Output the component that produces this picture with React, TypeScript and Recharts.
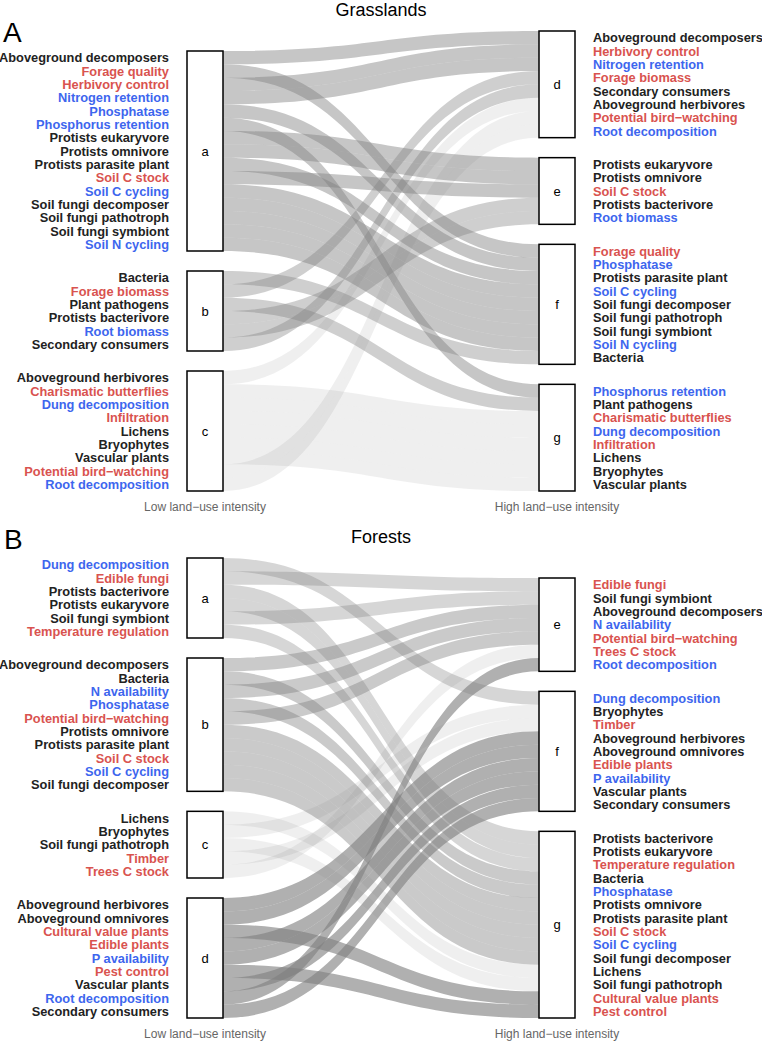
import React from "react";
import { Sankey } from "recharts";

// Panel A: grasslands. Strata at low (a-c) and high (d-g) land-use intensity,
// each listing its items top to bottom as printed in the figure.
const GRASS_LOW = ["a", "b", "c"];
const GRASS_HIGH = ["d", "e", "f", "g"];
const GRASS_LOW_ITEMS: string[][] = [
  [
    "Aboveground decomposers",
    "Forage quality",
    "Herbivory control",
    "Nitrogen retention",
    "Phosphatase",
    "Phosphorus retention",
    "Protists eukaryvore",
    "Protists omnivore",
    "Protists parasite plant",
    "Soil C stock",
    "Soil C cycling",
    "Soil fungi decomposer",
    "Soil fungi pathotroph",
    "Soil fungi symbiont",
    "Soil N cycling",
  ],
  [
    "Bacteria",
    "Forage biomass",
    "Plant pathogens",
    "Protists bacterivore",
    "Root biomass",
    "Secondary consumers",
  ],
  [
    "Aboveground herbivores",
    "Charismatic butterflies",
    "Dung decomposition",
    "Infiltration",
    "Lichens",
    "Bryophytes",
    "Vascular plants",
    "Potential bird\u2212watching",
    "Root decomposition",
  ],
];
const GRASS_HIGH_ITEMS: string[][] = [
  [
    "Aboveground decomposers",
    "Herbivory control",
    "Nitrogen retention",
    "Forage biomass",
    "Secondary consumers",
    "Aboveground herbivores",
    "Potential bird\u2212watching",
    "Root decomposition",
  ],
  [
    "Protists eukaryvore",
    "Protists omnivore",
    "Soil C stock",
    "Protists bacterivore",
    "Root biomass",
  ],
  [
    "Forage quality",
    "Phosphatase",
    "Protists parasite plant",
    "Soil C cycling",
    "Soil fungi decomposer",
    "Soil fungi pathotroph",
    "Soil fungi symbiont",
    "Soil N cycling",
    "Bacteria",
  ],
  [
    "Phosphorus retention",
    "Plant pathogens",
    "Charismatic butterflies",
    "Dung decomposition",
    "Infiltration",
    "Lichens",
    "Bryophytes",
    "Vascular plants",
  ],
];

// Panel B: forests.
const FOREST_LOW = ["a", "b", "c", "d"];
const FOREST_HIGH = ["e", "f", "g"];
const FOREST_LOW_ITEMS: string[][] = [
  [
    "Dung decomposition",
    "Edible fungi",
    "Protists bacterivore",
    "Protists eukaryvore",
    "Soil fungi symbiont",
    "Temperature regulation",
  ],
  [
    "Aboveground decomposers",
    "Bacteria",
    "N availability",
    "Phosphatase",
    "Potential bird\u2212watching",
    "Protists omnivore",
    "Protists parasite plant",
    "Soil C stock",
    "Soil C cycling",
    "Soil fungi decomposer",
  ],
  ["Lichens", "Bryophytes", "Soil fungi pathotroph", "Timber", "Trees C stock"],
  [
    "Aboveground herbivores",
    "Aboveground omnivores",
    "Cultural value plants",
    "Edible plants",
    "P availability",
    "Pest control",
    "Vascular plants",
    "Root decomposition",
    "Secondary consumers",
  ],
];
const FOREST_HIGH_ITEMS: string[][] = [
  [
    "Edible fungi",
    "Soil fungi symbiont",
    "Aboveground decomposers",
    "N availability",
    "Potential bird\u2212watching",
    "Trees C stock",
    "Root decomposition",
  ],
  [
    "Dung decomposition",
    "Bryophytes",
    "Timber",
    "Aboveground herbivores",
    "Aboveground omnivores",
    "Edible plants",
    "P availability",
    "Vascular plants",
    "Secondary consumers",
  ],
  [
    "Protists bacterivore",
    "Protists eukaryvore",
    "Temperature regulation",
    "Bacteria",
    "Phosphatase",
    "Protists omnivore",
    "Protists parasite plant",
    "Soil C stock",
    "Soil C cycling",
    "Soil fungi decomposer",
    "Lichens",
    "Soil fungi pathotroph",
    "Cultural value plants",
    "Pest control",
  ],
];

// Label colour groups (everything else is printed in black).
const SERVICE_ITEMS = [
  "Forage quality",
  "Herbivory control",
  "Soil C stock",
  "Forage biomass",
  "Charismatic butterflies",
  "Infiltration",
  "Potential bird\u2212watching",
  "Edible fungi",
  "Temperature regulation",
  "Timber",
  "Trees C stock",
  "Cultural value plants",
  "Edible plants",
  "Pest control",
];
const FUNCTION_ITEMS = [
  "Nitrogen retention",
  "Phosphatase",
  "Phosphorus retention",
  "Soil C cycling",
  "Soil N cycling",
  "Root biomass",
  "Dung decomposition",
  "Root decomposition",
  "N availability",
  "P availability",
];

const WIDTH = 762;
const HEIGHT = 1043;
const NODE_WIDTH = 36;
const LABEL_GAP = 18;
const RED = "#d9534f";
const BLUE = "#3d66ee";
const INK = "#222222";

// ribbon shade per low-intensity stratum
const GRASS_SHADE: Record<string, number> = { a: 0.45, b: 0.38, c: 0.13 };
const FOREST_SHADE: Record<string, number> = { a: 0.32, b: 0.42, c: 0.13, d: 0.62 };

interface StratumNode {
  name: string;
  items: string[];
}

interface ItemLink {
  source: number;
  target: number;
  value: number;
  item: string;
}

function buildSankeyData(
  low: string[],
  lowItems: string[][],
  high: string[],
  highItems: string[][],
): { nodes: StratumNode[]; links: ItemLink[] } {
  const nodes: StratumNode[] = [
    ...low.map((name, i) => ({ name, items: lowItems[i] })),
    ...high.map((name, i) => ({ name, items: highItems[i] })),
  ];
  const links: ItemLink[] = [];
  lowItems.forEach((items, s) => {
    items.forEach((item) => {
      const t = highItems.findIndex((list) => list.includes(item));
      if (t >= 0) links.push({ source: s, target: low.length + t, value: 1, item });
    });
  });
  return { nodes, links };
}

function labelColor(item: string): string {
  if (SERVICE_ITEMS.includes(item)) return RED;
  if (FUNCTION_ITEMS.includes(item)) return BLUE;
  return INK;
}

function makeNode(nodes: StratumNode[]) {
  return function StratumBox(props: any): React.ReactElement {
    const { x, y, width, height, payload } = props;
    const stratum = nodes.find((n) => n.name === payload.name);
    const items = stratum ? stratum.items : [];
    const isLow = (payload.depth ?? 0) === 0;
    const step = height / Math.max(items.length, 1);
    return (
      <g>
        <rect
          x={x}
          y={y}
          width={width}
          height={height}
          fill="#ffffff"
          stroke="#000000"
          strokeWidth={1.5}
        />
        <text
          x={x + width / 2}
          y={y + height / 2}
          textAnchor="middle"
          dominantBaseline="central"
          fontSize={13}
          fill="#000000"
        >
          {payload.name}
        </text>
        {items.map((item, i) => (
          <text
            key={item}
            x={isLow ? x - LABEL_GAP : x + width + LABEL_GAP}
            y={y + step * (i + 0.5)}
            textAnchor={isLow ? "end" : "start"}
            dominantBaseline="central"
            fontSize={12.8}
            fontWeight={700}
            fill={labelColor(item)}
          >
            {item}
          </text>
        ))}
      </g>
    );
  };
}

// Each item is drawn as its own ribbon, placed at its row within the
// source and target strata (the library supplies stratum positions and widths).
function makeRibbon(nodes: StratumNode[], shade: Record<string, number>) {
  return function Ribbon(props: any): React.ReactElement {
    const {
      sourceX,
      targetX,
      sourceY,
      targetY,
      sourceRelativeY,
      targetRelativeY,
      linkWidth,
      payload,
    } = props;
    const src = typeof payload.source === "object" ? payload.source : nodes[payload.source];
    const tgt = typeof payload.target === "object" ? payload.target : nodes[payload.target];
    const srcItems = nodes.find((n) => n.name === src.name)?.items ?? [];
    const tgtItems = nodes.find((n) => n.name === tgt.name)?.items ?? [];
    const srcTop = sourceY - sourceRelativeY - linkWidth / 2;
    const tgtTop = targetY - targetRelativeY - linkWidth / 2;
    const y0 = srcTop + srcItems.indexOf(payload.item) * linkWidth;
    const y1 = tgtTop + tgtItems.indexOf(payload.item) * linkWidth;
    const mx = (sourceX + targetX) / 2;
    const d =
      `M${sourceX},${y0} C${mx},${y0} ${mx},${y1} ${targetX},${y1} ` +
      `L${targetX},${y1 + linkWidth} ` +
      `C${mx},${y1 + linkWidth} ${mx},${y0 + linkWidth} ${sourceX},${y0 + linkWidth} Z`;
    return <path d={d} fill="#808080" fillOpacity={shade[src.name] ?? 0.3} stroke="none" />;
  };
}

const GRASS_DATA = buildSankeyData(GRASS_LOW, GRASS_LOW_ITEMS, GRASS_HIGH, GRASS_HIGH_ITEMS);
const FOREST_DATA = buildSankeyData(FOREST_LOW, FOREST_LOW_ITEMS, FOREST_HIGH, FOREST_HIGH_ITEMS);

interface PanelProps {
  top: number;
  height: number;
  margin: { top: number; right: number; bottom: number; left: number };
  data: { nodes: StratumNode[]; links: ItemLink[] };
  shade: Record<string, number>;
}

function AlluvialPanel({ top, height, margin, data, shade }: PanelProps): React.ReactElement {
  return (
    <div style={{ position: "absolute", left: 0, top }}>
      <Sankey
        width={WIDTH}
        height={height}
        data={data}
        margin={margin}
        nodeWidth={NODE_WIDTH}
        nodePadding={20}
        iterations={1}
        sort={false}
        linkCurvature={0.5}
        node={makeNode(data.nodes)}
        link={makeRibbon(data.nodes, shade)}
      />
    </div>
  );
}

export default function App(): React.ReactElement {
  return (
    <div
      style={{
        position: "relative",
        width: WIDTH,
        height: HEIGHT,
        background: "#ffffff",
        fontFamily: "'Liberation Sans', Arial, Helvetica, sans-serif",
      }}
    >
      <style>{"body{margin:0}"}</style>
      <AlluvialPanel
        top={0}
        height={520}
        margin={{ top: 31, right: 187, bottom: 29, left: 187 }}
        data={GRASS_DATA}
        shade={GRASS_SHADE}
      />
      <AlluvialPanel
        top={520}
        height={523}
        margin={{ top: 38, right: 187, bottom: 25, left: 187 }}
        data={FOREST_DATA}
        shade={FOREST_SHADE}
      />
      <svg
        width={WIDTH}
        height={HEIGHT}
        style={{ position: "absolute", left: 0, top: 0, pointerEvents: "none" }}
      >
        <text x={3} y={42} fontSize={28} fill="#000000">A</text>
        <text x={381} y={16} fontSize={18} textAnchor="middle" fill="#000000">Grasslands</text>
        <text x={205} y={511} fontSize={12} textAnchor="middle" fill="#666666">Low land{"\u2212"}use intensity</text>
        <text x={557} y={511} fontSize={12} textAnchor="middle" fill="#666666">High land{"\u2212"}use intensity</text>
        <text x={4} y={549} fontSize={28} fill="#000000">B</text>
        <text x={381} y={543} fontSize={18} textAnchor="middle" fill="#000000">Forests</text>
        <text x={205} y={1038} fontSize={12} textAnchor="middle" fill="#666666">Low land{"\u2212"}use intensity</text>
        <text x={557} y={1038} fontSize={12} textAnchor="middle" fill="#666666">High land{"\u2212"}use intensity</text>
      </svg>
    </div>
  );
}
